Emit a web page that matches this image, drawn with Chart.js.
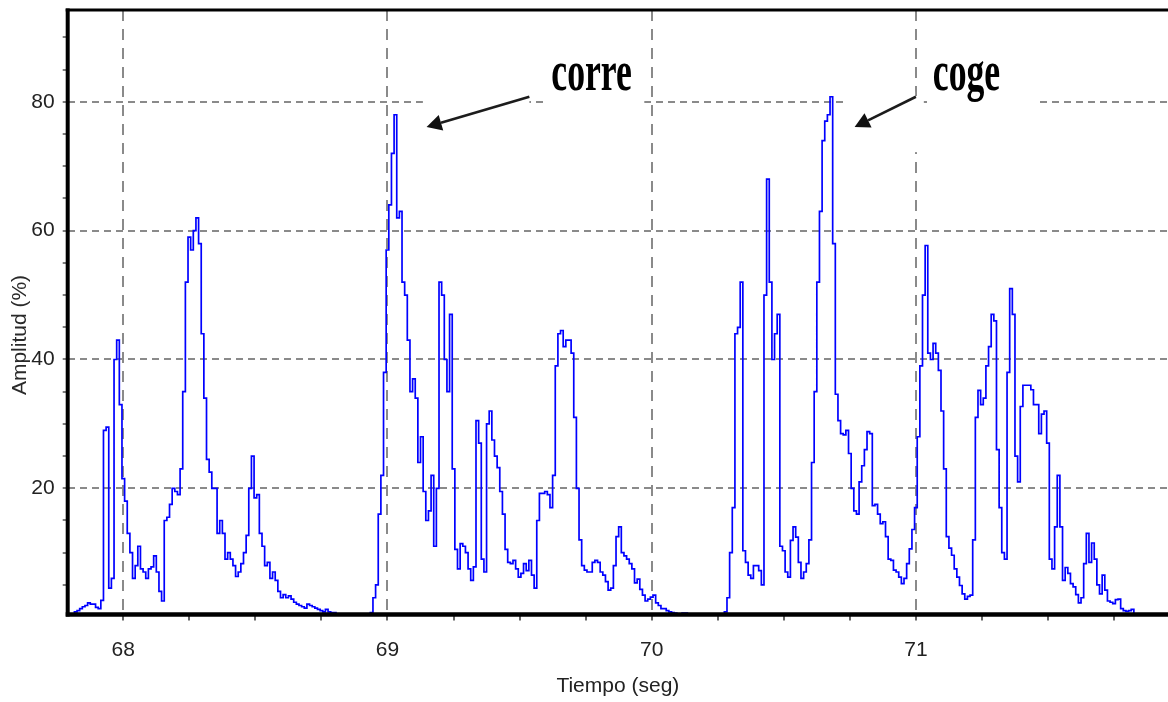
<!DOCTYPE html>
<html>
<head>
<meta charset="utf-8">
<script src="https://cdn.jsdelivr.net/npm/chart.js@4.4.1/dist/chart.umd.min.js"></script>
<style>
  html, body { margin: 0; padding: 0; background: #fff; }
  #wrap { width: 1168px; height: 702px; }
</style>
</head>
<body>
<div id="wrap"><canvas id="emg" width="1168" height="702"></canvas></div>
<script>
// Sampled amplitude (%) every 10 ms, first sample at 67.80 s
const startTime = 67.80;
const sampleStep = 0.01;
const amplitude = [
    0, 0.5, 0.8, 1.0, 1.3, 1.6, 1.8, 2.2, 2.0, 2.0,          // 67.80
    1.5, 1.3, 2.6, 29, 29.5, 4.5, 6, 40, 43, 33,             // 67.90
    21.5, 18, 13, 10, 6, 8, 11, 7.5, 7, 6,                   // 68.00
    7.5, 7.8, 9.5, 7, 4, 2.5, 15, 15.5, 17.5, 20,            // 68.10
    19.5, 19, 23, 35, 52, 59, 57, 60, 62, 58,                // 68.20
    44, 34, 24.5, 22.5, 20, 20, 13, 15, 13, 9,               // 68.30
    10, 9, 8, 6.3, 7, 8.3, 10, 12.7, 20, 25,                 // 68.40
    18.5, 19, 13, 11, 8, 8.5, 6, 7, 5.7, 4,                  // 68.50
    3, 3.5, 3, 3.3, 2.8, 2.3, 2, 1.8, 1.6, 1.4,              // 68.60
    2, 1.8, 1.6, 1.4, 1.2, 1, 0.8, 1.2, 0.8, 0.7,            // 68.70
    0.7, 0.3, 0, 0, 0, 0, 0, 0, 0, 0,                        // 68.80
    0, 0, 0, 0, 0.7, 3, 5, 16, 22, 38,                       // 68.90
    57, 64, 72, 78, 62, 63, 52, 50, 43, 35,                  // 69.00
    37, 34, 24, 28, 19.5, 15, 16.5, 22, 11, 20,              // 69.10
    52, 50, 40, 35, 47, 23, 10.5, 7.5, 11.4, 11,             // 69.20
    10, 7.5, 5.7, 7.8, 30.5, 27, 9, 7, 30, 32,               // 69.30
    27.5, 25, 23.2, 19.5, 16, 10.5, 8.5, 8.3, 8.8, 7.5,      // 69.40
    6.2, 6.8, 8.3, 7.2, 8.8, 6.5, 4.5, 15, 19.2, 19.2,       // 69.50
    19.5, 19, 17, 22, 39, 44, 44.5, 42, 43, 43,              // 69.60
    41, 31, 20, 12, 8, 7.3, 7, 7, 8.5, 8.8,                  // 69.70
    8.5, 7, 6.5, 5.5, 4.2, 4.5, 8, 12.5, 14, 10,             // 69.80
    9.5, 9, 8.3, 7.5, 5.3, 5.9, 4.3, 3.4, 2.5, 2.8,          // 69.90
    3.1, 3.4, 2.2, 1.8, 1.3, 1.3, 1, 0.8, 0.7, 0.6,          // 70.00
    0.4, 0.5, 0.6, 0.6, 0.5, 0.2, 0, 0, 0, 0,                // 70.10
    0, 0, 0, 0, 0, 0, 0, 0.3, 0.8, 3,                        // 70.20
    10, 17, 44, 45, 52, 10.3, 8.5, 6.5, 6, 8,                // 70.30
    8, 7.2, 5, 50, 68, 52, 40, 44, 47, 11,                   // 70.40
    10.3, 7, 6.2, 11.9, 14, 12.4, 8.5, 6, 7, 8.3,            // 70.50
    12, 24, 35, 52, 63, 74, 77, 78, 80.8, 58,                // 70.60
    34.6, 30.5, 28.5, 28.3, 29, 25.4, 20, 16.5, 16, 21,      // 70.70
    23.5, 26, 28.8, 28.5, 17.3, 17.5, 16, 14.5, 14.8, 12.5,  // 70.80
    9, 8.8, 7.3, 7, 6.2, 5.2, 6, 8.3, 10.6, 13.6,            // 70.90
    17, 28, 39, 50, 57.7, 41, 40, 42.5, 41, 38.3,            // 71.00
    32, 23, 12.5, 10.7, 9.6, 7.5, 6.2, 4.9, 3.6, 2.8,        // 71.10
    3.2, 3.4, 12, 31, 35.2, 33, 34, 39, 42, 47,              // 71.20
    46, 26, 17, 10, 9, 38, 51, 47, 25, 21,                   // 71.30
    32.7, 36, 36, 36, 35.3, 33, 33, 28.5, 31.5, 32,          // 71.40
    27, 9, 7.5, 14, 22, 14, 5.7, 7.7, 6.8, 5.2,              // 71.50
    4.7, 3.5, 2.2, 3, 8.3, 13, 8.5, 11.5, 9, 5,              // 71.60
    3.6, 6.5, 4.2, 2.5, 2.3, 2.1, 2.7, 2.8, 1.3, 1,          // 71.70
    0.9, 1, 1.2, 0.4, 0                                      // 71.80
];

const xTicks = [68, 68.25, 68.5, 68.75, 69, 69.25, 69.5, 69.75, 70, 70.25, 70.5, 70.75, 71, 71.25, 71.5, 71.75];
const yTicks = [5, 10, 15, 20, 25, 30, 35, 40, 45, 50, 55, 60, 65, 70, 75, 80, 85, 90];

// arrow notes: label, text anchor, arrow tail, arrow tip (time s, amplitude %)
const noteLabels = ['corre', 'coge'];
const noteTextAt = [[69.62, 81.8], [71.064, 81.8]];
const noteTail = [[69.537, 80.8], [71.0, 80.8]];
const noteTip = [[69.148, 76.1], [70.768, 76.1]];
// places where the grid was whited out behind the notes [t0, t1, v0, v1]
const gridMasks = [
    [69.134, 69.537, 78.6, 81.6],
    [69.603, 69.972, 78.6, 90],
    [70.732, 70.997, 78.6, 81.6],
    [70.99, 71.03, 72.2, 80.9],
    [71.053, 71.458, 78.6, 90]
];

const points = amplitude.map((v, i) => ({ x: startTime + i * sampleStep, y: v }));

const narrow = '"Liberation Sans", Arial, sans-serif';

const NotesAndFrame = {
    id: 'notesAndFrame',
    beforeDatasetsDraw(chart) {
        const { ctx, scales: { x, y } } = chart;
        ctx.save();
        ctx.fillStyle = '#ffffff';
        for (const m of gridMasks) {
            const x0 = x.getPixelForValue(m[0]);
            const x1 = x.getPixelForValue(m[1]);
            const y0 = y.getPixelForValue(m[3]);
            const y1 = y.getPixelForValue(m[2]);
            ctx.fillRect(x0, y0, x1 - x0, y1 - y0);
        }
        ctx.restore();
    },
    afterDatasetsDraw(chart) {
        const { ctx, chartArea: a, scales: { x, y } } = chart;
        ctx.save();

        // heavy black frame (left, top, bottom)
        ctx.strokeStyle = '#000';
        ctx.lineWidth = 4.5;
        ctx.beginPath();
        ctx.moveTo(a.left - 2, a.bottom);
        ctx.lineTo(a.right, a.bottom);
        ctx.stroke();
        ctx.lineWidth = 4;
        ctx.beginPath();
        ctx.moveTo(a.left, a.top - 1.5);
        ctx.lineTo(a.left, a.bottom + 2);
        ctx.stroke();
        ctx.lineWidth = 3;
        ctx.beginPath();
        ctx.moveTo(a.left - 2, a.top);
        ctx.lineTo(a.right, a.top);
        ctx.stroke();

        // y axis title
        ctx.save();
        ctx.translate(20, 335);
        ctx.rotate(-Math.PI / 2);
        ctx.fillStyle = '#2a2a2a';
        ctx.font = '21px ' + narrow;
        ctx.textAlign = 'center';
        ctx.textBaseline = 'middle';
        ctx.fillText('Amplitud (%)', 0, 0);
        ctx.restore();

        // notes with arrows
        for (let i = 0; i < noteLabels.length; i++) {
            const tx = x.getPixelForValue(noteTextAt[i][0]);
            const ty = y.getPixelForValue(noteTextAt[i][1]);
            ctx.save();
            ctx.translate(tx, ty);
            ctx.scale(0.615, 1);
            ctx.fillStyle = '#000';
            ctx.font = 'bold 58px "Liberation Serif", "Times New Roman", serif';
            ctx.textAlign = 'left';
            ctx.textBaseline = 'alphabetic';
            ctx.fillText(noteLabels[i], 0, 0);
            ctx.restore();

            const x0 = x.getPixelForValue(noteTail[i][0]);
            const y0 = y.getPixelForValue(noteTail[i][1]);
            const x1 = x.getPixelForValue(noteTip[i][0]);
            const y1 = y.getPixelForValue(noteTip[i][1]);
            const ang = Math.atan2(y1 - y0, x1 - x0);
            const headLen = 15, headHalf = 8;
            const bx = x1 - headLen * Math.cos(ang);
            const by = y1 - headLen * Math.sin(ang);
            ctx.strokeStyle = '#1c1c1c';
            ctx.lineWidth = 2.6;
            ctx.beginPath();
            ctx.moveTo(x0, y0);
            ctx.lineTo(bx, by);
            ctx.stroke();
            ctx.fillStyle = '#111';
            ctx.beginPath();
            ctx.moveTo(x1, y1);
            ctx.lineTo(bx - headHalf * Math.sin(ang), by + headHalf * Math.cos(ang));
            ctx.lineTo(bx + headHalf * Math.sin(ang), by - headHalf * Math.cos(ang));
            ctx.closePath();
            ctx.fill();
        }
        ctx.restore();
    }
};

const ctx = document.getElementById('emg').getContext('2d');
const chart = new Chart(ctx, {
    type: 'line',
    data: {
        datasets: [{
            label: 'Amplitud',
            data: points,
            borderColor: '#0000ff',
            borderWidth: 1.7,
            pointRadius: 0,
            fill: false,
            stepped: 'middle',
            tension: 0
        }]
    },
    options: {
        responsive: false,
        animation: false,
        devicePixelRatio: 1,
        layout: { padding: { top: 10, right: 0, bottom: 0, left: 0 } },
        plugins: {
            legend: { display: false },
            tooltip: { enabled: false }
        },
        scales: {
            x: {
                type: 'linear',
                min: 67.7896,
                max: 71.9542,
                afterBuildTicks: scale => { scale.ticks = xTicks.map(v => ({ value: v })); },
                afterFit: scale => {
                    scale.height = 87.5;
                    scale.paddingLeft = 0;
                    scale.paddingRight = 0;
                },
                border: { display: false, dash: [11, 8] },
                grid: {
                    color: c => (c.tick && Number.isInteger(c.tick.value)) ? '#8a8a8a' : 'rgba(0,0,0,0)',
                    lineWidth: 2,
                    tickColor: '#333',
                    tickLength: 6,
                    tickWidth: 1.5
                },
                ticks: {
                    autoSkip: false,
                    maxRotation: 0,
                    padding: 17,
                    color: '#222',
                    font: { family: narrow, size: 21 },
                    callback: v => Number.isInteger(v) ? String(v) : ''
                },
                title: {
                    display: true,
                    text: 'Tiempo (seg)',
                    color: '#222',
                    font: { family: narrow, size: 21 },
                    padding: { top: 0, bottom: 3 }
                }
            },
            y: {
                type: 'linear',
                min: 0.4,
                max: 94.27,
                afterBuildTicks: scale => { scale.ticks = yTicks.map(v => ({ value: v })); },
                afterFit: scale => {
                    scale.width = 67.7;
                    scale.paddingTop = 0;
                    scale.paddingBottom = 0;
                },
                border: { display: false, dash: [7, 5] },
                grid: {
                    color: c => (c.tick && c.tick.value % 20 === 0) ? '#8a8a8a' : 'rgba(0,0,0,0)',
                    lineWidth: 2,
                    tickColor: '#555',
                    tickLength: 5,
                    tickWidth: 1.5
                },
                ticks: {
                    autoSkip: false,
                    padding: 8,
                    color: '#222',
                    font: { family: narrow, size: 21 },
                    callback: v => v % 20 === 0 ? String(v) : ''
                }
            }
        }
    },
    plugins: [NotesAndFrame]
});
</script>
</body>
</html>
